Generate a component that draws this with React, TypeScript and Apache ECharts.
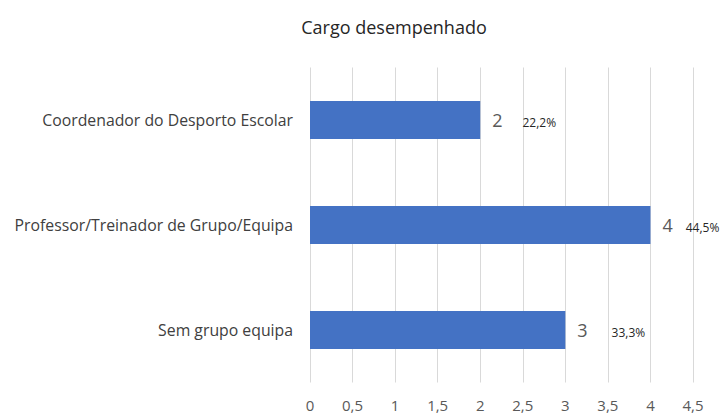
import React, { useEffect, useRef } from "react";
import * as echarts from "echarts";

const categories = ["Coordenador do Desporto Escolar", "Professor/Treinador de Grupo/Equipa", "Sem grupo equipa"];
const values = [2, 4, 3];
const percents = ["22,2%", "44,5%", "33,3%"];
const title = "Cargo desempenhado";

export default function App() {
  const ref = useRef<HTMLDivElement>(null);
  useEffect(() => {
    const chart = echarts.init(ref.current!, null, { renderer: "svg" });
    const font = "'Open Sans', 'Noto Sans', sans-serif";
    const gaps = [20, 13, 24];
    const rich: any = {
      b: { fontSize: 12, color: "#262626", fontFamily: font, padding: [4, 0, 0, 0] },
    };
    gaps.forEach((g, i) => {
      rich["a" + i] = { fontSize: 18, color: "#595959", fontFamily: font, padding: [0, g, 0, 0] };
    });
    chart.setOption({
      animation: false,
      textStyle: { fontFamily: font },
      title: {
        text: title,
        left: 389,
        textAlign: "center",
        top: 13,
        textStyle: { fontFamily: font, fontSize: 18, fontWeight: "normal", color: "#262626" },
      },
      grid: { left: 310, right: 27, top: 67.5, bottom: 31.5, containLabel: false },
      xAxis: {
        type: "value",
        min: 0,
        max: 4.5,
        interval: 0.5,
        axisLine: { show: false },
        axisTick: { show: false },
        splitLine: { lineStyle: { color: "#d9d9d9", width: 1 } },
        axisLabel: {
          color: "#595959",
          fontSize: 15,
          margin: 15,
          fontFamily: font,
          formatter: (v: number) => String(v).replace(".", ","),
        },
      },
      yAxis: {
        type: "category",
        data: categories,
        inverse: true,
        axisLine: { show: false },
        axisTick: { show: false },
        axisLabel: { color: "#404040", fontSize: 15.8, margin: 17, fontFamily: font },
      },
      series: [
        {
          type: "bar",
          data: values,
          barWidth: 38,
          itemStyle: { color: "#4472c4" },
          label: {
            show: true,
            position: "right",
            distance: 12,
            formatter: (p: any) => `{a${p.dataIndex}|${p.value}}{b|${percents[p.dataIndex]}}`,
            rich,
          },
        },
      ],
    });
    return () => chart.dispose();
  }, []);
  return <div ref={ref} style={{ width: 720, height: 414, position: "absolute", left: 0, top: 0 }} />;
}
